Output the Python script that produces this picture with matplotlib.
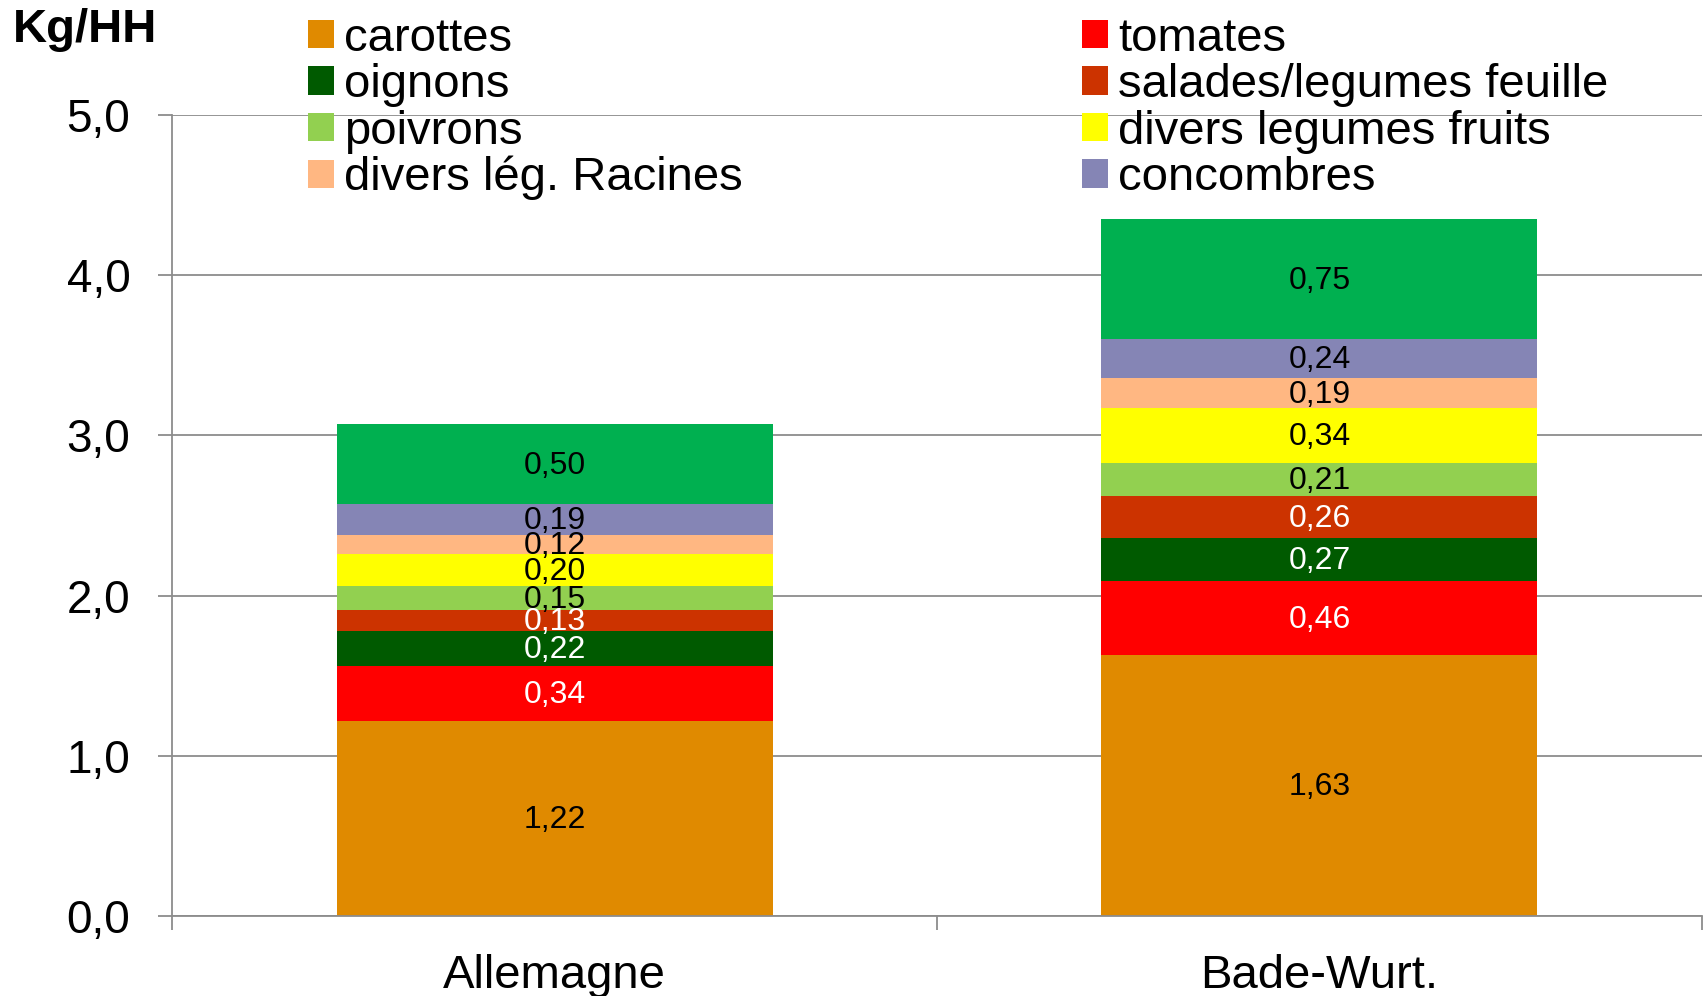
import numpy as np
import matplotlib
matplotlib.use("Agg")
import matplotlib.pyplot as plt

plt.rcParams['font.family'] = ['Liberation Sans', 'DejaVu Sans']

regions = ["Allemagne", "Bade-Wurt."]

# stacked from bottom to top
series = ["carottes", "tomates", "oignons", "salades/legumes feuille", "poivrons",
          "divers legumes fruits", "divers lég. Racines", "concombres", None]
values = {
    "carottes": [1.22, 1.63],
    "tomates": [0.34, 0.46],
    "oignons": [0.22, 0.27],
    "salades/legumes feuille": [0.13, 0.26],
    "poivrons": [0.15, 0.21],
    "divers legumes fruits": [0.20, 0.34],
    "divers lég. Racines": [0.12, 0.19],
    "concombres": [0.19, 0.24],
    None: [0.50, 0.75],
}
colors = ["#E08A00", "#FF0000", "#005A00", "#CC3300", "#92D050",
          "#FFFF00", "#FFB782", "#8585B5", "#00B050"]
label_colors = ["black", "white", "white", "white", "black",
                "black", "black", "black", "black"]

legend_order = ["carottes", "oignons", "poivrons", "divers lég. Racines",
                "tomates", "salades/legumes feuille", "divers legumes fruits", "concombres"]

fig = plt.figure(figsize=(17.04, 9.96), dpi=100)
ax = fig.add_axes([0.101, 0.0803, 0.8978, 0.8042])

x = np.arange(len(regions))
bottom = np.zeros(len(regions))
handles = {}
for name, col, lc in zip(series, colors, label_colors):
    vals = np.array(values[name])
    bars = ax.bar(x, vals, 0.57, bottom=bottom, color=col, zorder=2)
    if name is not None:
        handles[name] = bars
    for xi, b, v in zip(x, bottom, vals):
        ax.text(xi, b + v / 2 - 0.01, f"{v:.2f}".replace(".", ","), ha="center", va="center",
                fontsize=23, color=lc, zorder=3)
    bottom += vals

ax.set_xlim(-0.5, 1.5)
ax.set_ylim(0, 5)
ax.set_yticks(np.arange(0, 5.01, 1.0))
ax.set_yticklabels([f"{v:.1f}".replace(".", ",") for v in np.arange(0, 5.01, 1.0)])
ax.yaxis.grid(True, color="#8c8c8c", linewidth=1.3, zorder=0)
ax.set_axisbelow(True)

ax.set_xticks(x)
ax.set_xticklabels(regions)
ax.set_xticks([-0.5, 0.5, 1.5], minor=True)
ax.tick_params(axis="x", which="major", length=0, pad=27, labelsize=34)
ax.tick_params(axis="x", which="minor", length=10, width=1.3, color="#8c8c8c")
ax.tick_params(axis="y", length=10, width=1.3, color="#8c8c8c", pad=20, labelsize=33)

for s in ["top", "right"]:
    ax.spines[s].set_visible(False)
for s in ["left", "bottom"]:
    ax.spines[s].set_color("#8c8c8c")
    ax.spines[s].set_linewidth(1.3)

fig.text(0.0076, 0.97, "Kg/HH", fontsize=34, fontweight="bold", va="center", ha="left")

leg = fig.legend([handles[n] for n in legend_order], legend_order, ncol=2,
                 loc="upper left", bbox_to_anchor=(0.1696, 1.002), frameon=False,
                 fontsize=34, handlelength=0.55, handleheight=0.55, handletextpad=0.22,
                 labelspacing=0.05, columnspacing=7.18, borderaxespad=0)

fig.savefig("out.png", dpi=100)
